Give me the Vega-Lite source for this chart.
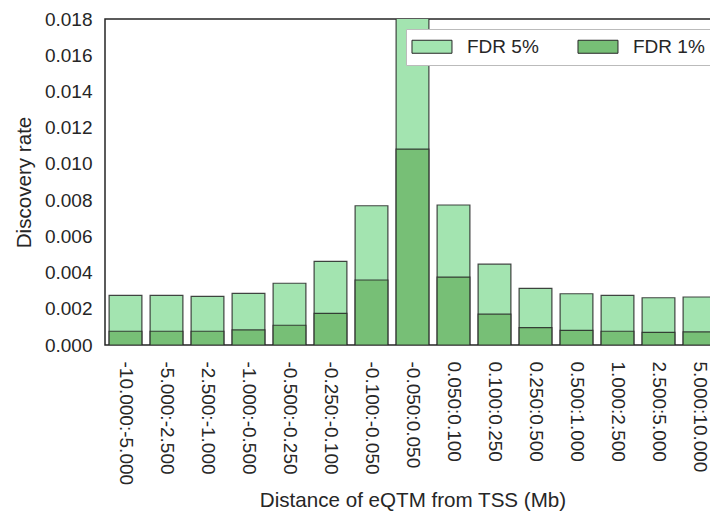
{
  "$schema": "https://vega.github.io/schema/vega-lite/v6.json",
  "autosize": "none",
  "padding": {"left": 105, "top": 19, "right": 0, "bottom": 168},
  "width": 615,
  "height": 326,
  "background": "white",
  "config": {
    "font": "Liberation Sans",
    "view": {"stroke": "#262626", "strokeWidth": 1.5},
    "axis": {"domain": false, "ticks": false, "grid": false, "labelColor": "#262626", "titleColor": "#262626", "labelFontSize": 19, "titleFontSize": 20.6, "titleFontWeight": "normal"}
  },
  "data": {
    "values": [
      {"bin": "-10.000:-5.000", "series": "FDR 5%", "rate": 0.00274},
      {"bin": "-5.000:-2.500", "series": "FDR 5%", "rate": 0.00274},
      {"bin": "-2.500:-1.000", "series": "FDR 5%", "rate": 0.00269},
      {"bin": "-1.000:-0.500", "series": "FDR 5%", "rate": 0.00285},
      {"bin": "-0.500:-0.250", "series": "FDR 5%", "rate": 0.00341},
      {"bin": "-0.250:-0.100", "series": "FDR 5%", "rate": 0.00462},
      {"bin": "-0.100:-0.050", "series": "FDR 5%", "rate": 0.00769},
      {"bin": "-0.050:0.050", "series": "FDR 5%", "rate": 0.0215},
      {"bin": "0.050:0.100", "series": "FDR 5%", "rate": 0.00773},
      {"bin": "0.100:0.250", "series": "FDR 5%", "rate": 0.00446},
      {"bin": "0.250:0.500", "series": "FDR 5%", "rate": 0.00313},
      {"bin": "0.500:1.000", "series": "FDR 5%", "rate": 0.00283},
      {"bin": "1.000:2.500", "series": "FDR 5%", "rate": 0.00274},
      {"bin": "2.500:5.000", "series": "FDR 5%", "rate": 0.00261},
      {"bin": "5.000:10.000", "series": "FDR 5%", "rate": 0.00265},
      {"bin": "-10.000:-5.000", "series": "FDR 1%", "rate": 0.00076},
      {"bin": "-5.000:-2.500", "series": "FDR 1%", "rate": 0.00076},
      {"bin": "-2.500:-1.000", "series": "FDR 1%", "rate": 0.00076},
      {"bin": "-1.000:-0.500", "series": "FDR 1%", "rate": 0.00083},
      {"bin": "-0.500:-0.250", "series": "FDR 1%", "rate": 0.00109},
      {"bin": "-0.250:-0.100", "series": "FDR 1%", "rate": 0.00175},
      {"bin": "-0.100:-0.050", "series": "FDR 1%", "rate": 0.00359},
      {"bin": "-0.050:0.050", "series": "FDR 1%", "rate": 0.01082},
      {"bin": "0.050:0.100", "series": "FDR 1%", "rate": 0.00375},
      {"bin": "0.100:0.250", "series": "FDR 1%", "rate": 0.00170},
      {"bin": "0.250:0.500", "series": "FDR 1%", "rate": 0.00096},
      {"bin": "0.500:1.000", "series": "FDR 1%", "rate": 0.00081},
      {"bin": "1.000:2.500", "series": "FDR 1%", "rate": 0.00076},
      {"bin": "2.500:5.000", "series": "FDR 1%", "rate": 0.00070},
      {"bin": "5.000:10.000", "series": "FDR 1%", "rate": 0.00072}
    ]
  },
  "mark": {"type": "bar", "clip": true, "stroke": "#262626", "strokeWidth": 1.2, "strokeOpacity": 0.85},
  "encoding": {
    "x": {
      "field": "bin", "type": "nominal", "sort": null,
      "scale": {"paddingInner": 0.2, "paddingOuter": 0.1},
      "axis": {"title": "Distance of eQTM from TSS (Mb)", "labelAngle": 90, "labelAlign": "left", "labelBaseline": "middle", "labelPadding": 16, "titlePadding": 6}
    },
    "y": {
      "field": "rate", "type": "quantitative", "stack": null,
      "scale": {"domain": [0, 0.018], "nice": false},
      "axis": {"title": "Discovery rate", "values": [0, 0.002, 0.004, 0.006, 0.008, 0.010, 0.012, 0.014, 0.016, 0.018], "format": ".3f", "labelPadding": 13, "titlePadding": 10}
    },
    "color": {
      "field": "series", "type": "nominal",
      "scale": {"domain": ["FDR 5%", "FDR 1%"], "range": ["#a3e4b0", "#77bf76"]},
      "legend": {
        "title": null, "orient": "none", "legendX": 301, "legendY": 10,
        "direction": "horizontal", "columns": 2, "columnPadding": 36,
        "symbolType": "M-1.77,-1H4.38V1H-1.77Z", "symbolSize": 169,
        "symbolStrokeColor": "#262626", "symbolStrokeWidth": 1,
        "labelFontSize": 19, "labelColor": "#262626", "labelOffset": 34,
        "padding": 8, "fillColor": "white", "strokeColor": "#bbbbbb"
      }
    }
  }
}
